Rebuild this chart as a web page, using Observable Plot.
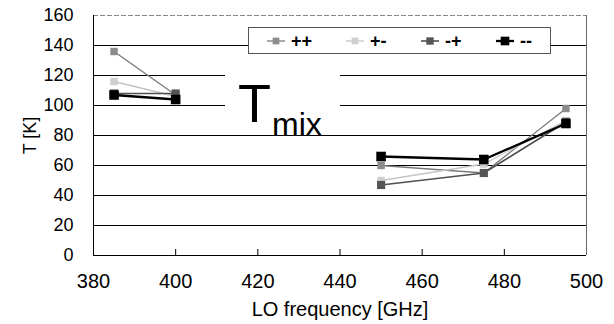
<!DOCTYPE html>
<html>
<head>
<meta charset="utf-8">
<script src="https://cdn.jsdelivr.net/npm/d3@7"></script>
<script src="https://cdn.jsdelivr.net/npm/@observablehq/plot@0.6"></script>
<style>
  html, body { margin: 0; padding: 0; background: #fff; }
  #wrap { position: relative; width: 614px; height: 324px; font-family: "Liberation Sans", Arial, sans-serif; }
  #legend { position: absolute; left: 248px; top: 27px; width: 303px; height: 27px; background: #fff; border: 1px solid #555; box-sizing: border-box; }
  .li { position: absolute; top: 3px; height: 20px; display: flex; align-items: center; font-weight: bold; font-size: 18px; }
  .li svg { margin-right: 5px; }
  #tlabel { position: absolute; left: 225px; top: 58px; width: 115px; height: 73px; background: #fff; }
  #tT { position: absolute; left: 238px; top: 76px; font-size: 54px; line-height: 54px; }
  #tmix { position: absolute; left: 272px; top: 108px; font-size: 32px; line-height: 32px; }
</style>
</head>
<body>
<div id="wrap"></div>
<script>
// ---- data ----
const freqs = [385, 400, 450, 475, 495];
const seriesNames = ["++", "+-", "-+", "--"];
const tPP = [136, 107, 60, 55, 98];
const tPM = [116, 106, 50, 61, 90];
const tMP = [108, 108, 47, 55, 89];
const tMM = [107, 104, 66, 64, 88];
const xTicks = [380, 400, 420, 440, 460, 480, 500];
const yTicks = [0, 20, 40, 60, 80, 100, 120, 140, 160];
const xLabel = "LO frequency [GHz]";
const yLabel = "T [K]";
const bandLow = [385, 400];   // first measured band

// ---- styles ----
const styles = {
  "++": {fill: "#8c8c8c", stroke: "#7a7a7a", sw: 1.3, r: 4.2},
  "+-": {fill: "#cfcfcf", stroke: "#c4c4c4", sw: 1.3, r: 4.2},
  "-+": {fill: "#555555", stroke: "#505050", sw: 1.6, r: 4.6},
  "--": {fill: "#000000", stroke: "#000000", sw: 2.3, r: 5.4}
};

const values = {"++": tPP, "+-": tPM, "-+": tMP, "--": tMM};
const rows = seriesNames.map(s => freqs.map((f, i) => ({
  series: s, f, t: values[s][i], seg: bandLow.includes(f) ? 0 : 1
})));

const marks = [];
marks.push(Plot.ruleY(yTicks.filter(t => t > 0 && t < 160), {stroke: "#000", strokeWidth: 1}));
marks.push(Plot.ruleY([160], {stroke: "#888", strokeDasharray: "5,2"}));
marks.push(Plot.ruleX([500], {stroke: "#666"}));
marks.push(Plot.ruleX([380], {stroke: "#000"}));
marks.push(Plot.ruleY([0], {stroke: "#000"}));
marks.push(Plot.ruleX(xTicks.slice(1, -1), {y1: 0, y2: 4, stroke: "#000"}));
seriesNames.forEach((s, k) => {
  const st = styles[s];
  marks.push(Plot.line(rows[k], {x: "f", y: "t", z: "seg", stroke: st.stroke, strokeWidth: st.sw}));
});
seriesNames.forEach((s, k) => {
  const st = styles[s];
  marks.push(Plot.dot(rows[k], {x: "f", y: "t", symbol: "square", fill: st.fill, r: st.r}));
});
marks.push(Plot.axisX({ticks: xTicks, tickSize: 0, tickPadding: 18, fontSize: 20, label: xLabel, labelAnchor: "center", labelArrow: "none", labelOffset: 60, tickFormat: d => String(d)}));
marks.push(Plot.axisY({ticks: yTicks, tickSize: 0, tickPadding: 20, fontSize: 18, label: yLabel, labelAnchor: "center", labelArrow: "none", labelOffset: 70}));

const chart = Plot.plot({
  width: 614,
  height: 324,
  marginLeft: 93,
  marginRight: 28,
  marginTop: 15,
  marginBottom: 69,
  x: {domain: [380, 500]},
  y: {domain: [0, 160]},
  style: {fontFamily: "'Liberation Sans', Arial, sans-serif", fontSize: "18px", color: "#000", background: "#fff"},
  marks
});
const wrap = document.getElementById("wrap");
wrap.appendChild(chart);

const tl = document.createElement("div"); tl.id = "tlabel"; wrap.appendChild(tl);
const tT = document.createElement("div"); tT.id = "tT"; tT.textContent = "T"; wrap.appendChild(tT);
const tm = document.createElement("div"); tm.id = "tmix"; tm.textContent = "mix"; wrap.appendChild(tm);

const lg = document.createElement("div"); lg.id = "legend"; wrap.appendChild(lg);
const legX = [17, 96, 171, 246];
seriesNames.forEach((s, k) => {
  const st = styles[s];
  const it = document.createElement("div");
  it.className = "li";
  it.style.left = legX[k] + "px";
  const side = st.r * 1.6;
  it.innerHTML = `<svg width="20" height="18"><line x1="1" x2="19" y1="9" y2="9" stroke="${st.stroke}" stroke-width="${st.sw}"/><rect x="${10 - side/2}" y="${9 - side/2}" width="${side}" height="${side}" fill="${st.fill}"/></svg><span>${s}</span>`;
  lg.appendChild(it);
});
</script>
</body>
</html>
